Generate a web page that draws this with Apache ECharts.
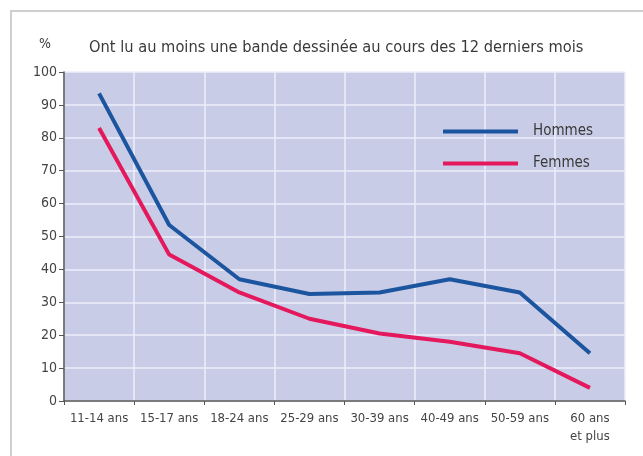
<!DOCTYPE html>
<html>
<head>
    <meta charset="utf-8">
    <script src="https://cdn.jsdelivr.net/npm/echarts@6.0.0/dist/echarts.min.js"></script>
    <style>
        body { margin: 0; background: #fff; }
        #chart { width: 643px; height: 456px; }
    </style>
</head>
<body>
<div id="chart"></div>
<script>
    const categories = ['11-14 ans', '15-17 ans', '18-24 ans', '25-29 ans', '30-39 ans', '40-49 ans', '50-59 ans', '60 ans\net plus']
    const hommes = [93.5, 53.5, 37, 32.5, 33, 37, 33, 14.5]
    const femmes = [83, 44.5, 33, 25, 20.5, 18, 14.5, 4]
    const titleText = 'Ont lu au moins une bande dessinée au cours des 12 derniers mois'

    const font = '"Liberation Sans Narrow", "DejaVu Sans Condensed", sans-serif'
    const chart = echarts.init(document.getElementById('chart'))

    const option = {
        backgroundColor: '#fff',
        animation: false,
        textStyle: { fontFamily: font },
        title: {
            text: titleText,
            left: 84,
            top: 35,
            textStyle: { fontFamily: font, fontSize: 16.3, fontWeight: 'normal', color: '#3a3a3a' }
        },
        graphic: [
            {
                type: 'rect',
                shape: { x: 11, y: 11, width: 700, height: 500 },
                style: { fill: 'none', stroke: '#cfcfcf', lineWidth: 2 },
                silent: true
            },
            {
                type: 'text',
                left: 39,
                top: 37,
                style: { text: '%', font: '14px ' + font, fill: '#3a3a3a' }
            }
        ],
        legend: {
            orient: 'vertical',
            left: 443,
            top: 124,
            padding: 0,
            itemWidth: 75,
            itemHeight: 4,
            itemGap: 17,
            icon: 'rect',
            textStyle: { fontFamily: font, fontSize: 15, color: '#3a3a3a', padding: [0, 0, 0, 10] },
            data: ['Hommes', 'Femmes']
        },
        grid: {
            left: 64,
            top: 72,
            right: 18,
            bottom: 55,
            show: true,
            backgroundColor: '#c9cce6',
            borderWidth: 0
        },
        xAxis: {
            type: 'category',
            data: categories,
            boundaryGap: true,
            axisLine: { lineStyle: { color: '#555', width: 1.5 } },
            axisTick: { show: true, length: 4, lineStyle: { color: '#555' } },
            axisLabel: { fontFamily: font, fontSize: 13, color: '#444', margin: 9, lineHeight: 18, interval: 0 },
            splitLine: { show: true, lineStyle: { color: '#eceefa', width: 1.5 } }
        },
        yAxis: {
            type: 'value',
            min: 0,
            max: 100,
            interval: 10,
            axisLine: { show: true, lineStyle: { color: '#555', width: 1.5 } },
            axisTick: { show: true, length: 5, lineStyle: { color: '#555' } },
            axisLabel: { fontFamily: font, fontSize: 14, color: '#444', margin: 7 },
            splitLine: { show: true, lineStyle: { color: '#eceefa', width: 1.5 } }
        },
        series: [
            {
                name: 'Hommes',
                type: 'line',
                data: hommes,
                symbol: 'none',
                lineStyle: { color: '#1c559f', width: 4 },
                itemStyle: { color: '#1c559f' }
            },
            {
                name: 'Femmes',
                type: 'line',
                data: femmes,
                symbol: 'none',
                lineStyle: { color: '#e4185c', width: 4 },
                itemStyle: { color: '#e4185c' }
            }
        ]
    }
    chart.setOption(option)
</script>
</body>
</html>
